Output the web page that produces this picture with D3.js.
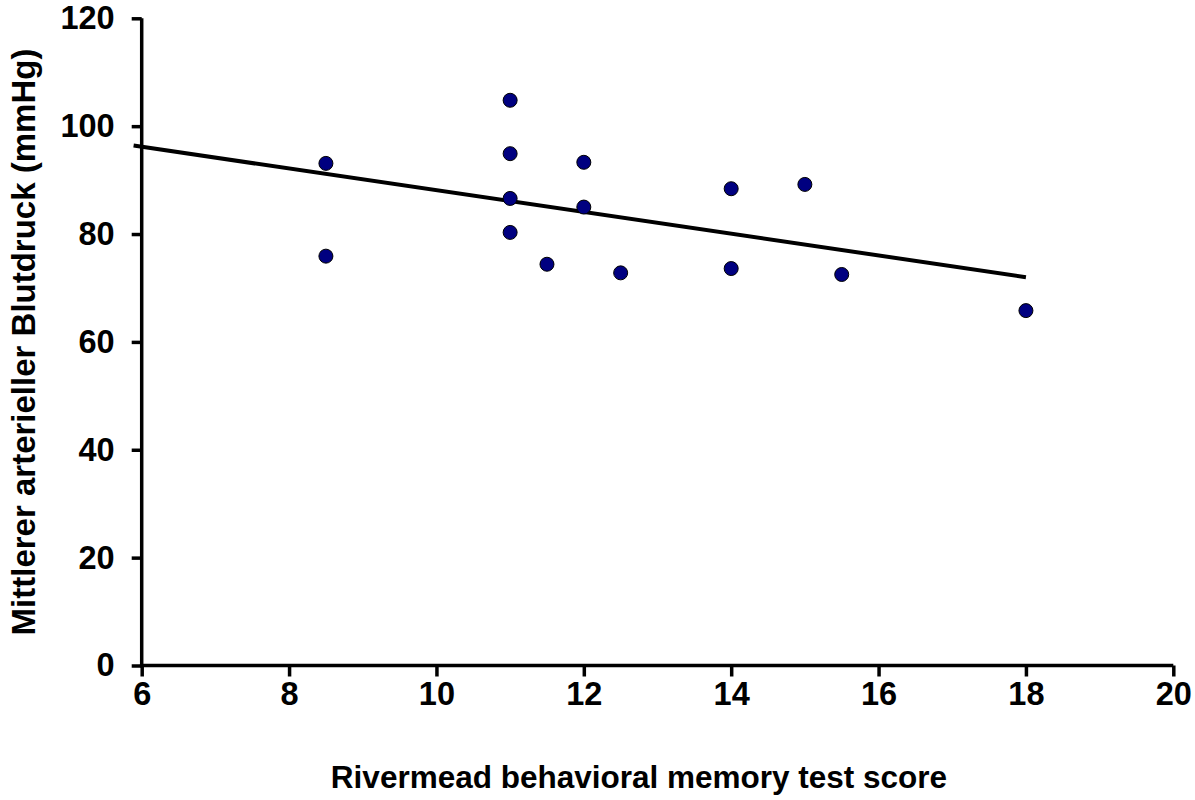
<!DOCTYPE html>
<html>
<head>
<meta charset="utf-8">
<script src="https://cdn.jsdelivr.net/npm/d3@7"></script>
<style>
  body { margin: 0; background: #fff; }
  text { font-family: "Liberation Sans", Arial, sans-serif; font-weight: bold; }
</style>
</head>
<body>
<div id="canvas"></div>
<script>
// data
var scoreX = [8.5, 8.5, 11, 11, 11, 11, 11.5, 12, 12, 12.5, 14, 14, 15, 15.5, 18];
var pressureY = [93.1, 75.9, 104.8, 94.9, 86.6, 80.3, 74.4, 93.3, 85.0, 72.8, 88.4, 73.6, 89.2, 72.5, 65.8];
var trendX = [5.89, 18];
var trendY = [96.4, 72.0];
var xTicks = [6, 8, 10, 12, 14, 16, 18, 20];
var yTicks = [0, 20, 40, 60, 80, 100, 120];

var width = 1195, height = 800;
var plotLeft = 141.7, plotRight = 1173.3, plotTop = 18.3, plotBottom = 665.5;

var svg = d3.select("#canvas").append("svg").attr("width", width).attr("height", height);

var x = d3.scaleLinear().domain([6, 20]).range([plotLeft, plotRight]);
var y = d3.scaleLinear().domain([0, 120]).range([plotBottom, plotTop]);

var xAxis = svg.append("g")
    .attr("transform", "translate(0," + plotBottom + ")")
    .call(d3.axisBottom(x).tickValues(xTicks).tickSize(11).tickPadding(5).tickSizeOuter(0));
var yAxis = svg.append("g")
    .attr("transform", "translate(" + plotLeft + ",0)")
    .call(d3.axisLeft(y).tickValues(yTicks).tickSize(10).tickPadding(17).tickSizeOuter(0));

[xAxis, yAxis].forEach(function(ax) {
    ax.attr("font-family", "'Liberation Sans', Arial, sans-serif")
      .attr("font-weight", "bold")
      .attr("font-size", 32.5);
    ax.selectAll("path.domain").attr("stroke", "black").attr("stroke-width", 3.5);
    ax.selectAll(".tick line").attr("stroke", "black").attr("stroke-width", 3.5);
    ax.selectAll(".tick text")
        .attr("fill", "black")
        .style("font-size", "32.5px")
        .style("font-weight", "700");
});
// stretch the domain lines a bit past the corner like the original
xAxis.select("path.domain").attr("d", "M" + (plotLeft - 1.75) + ",0H" + plotRight);
yAxis.select("path.domain").attr("d", "M0," + 1.75 + "V" + (plotTop - plotBottom));
yAxis.select("path.domain").attr("transform", "translate(0," + plotBottom + ")");

// trend line
svg.append("line")
    .attr("x1", x(trendX[0])).attr("y1", y(trendY[0]))
    .attr("x2", x(trendX[1])).attr("y2", y(trendY[1]))
    .attr("stroke", "black")
    .attr("stroke-width", 4);

// points
svg.selectAll("circle.pt")
    .data(scoreX)
    .enter().append("circle")
    .attr("class", "pt")
    .attr("cx", function(d) { return x(d); })
    .attr("cy", function(d, i) { return y(pressureY[i]); })
    .attr("r", 7)
    .attr("fill", "#000080")
    .attr("stroke", "black")
    .attr("stroke-width", 1);

// axis titles
svg.append("text")
    .attr("x", (330 + 948) / 2)
    .attr("y", 788)
    .attr("text-anchor", "middle")
    .style("font-size", "31.5px")
    .text("Rivermead behavioral memory test score");

svg.append("text")
    .attr("transform", "translate(35," + 342 + ") rotate(-90)")
    .attr("text-anchor", "middle")
    .style("font-size", "33px")
    .text("Mittlerer arterieller Blutdruck (mmHg)");
</script>
</body>
</html>
